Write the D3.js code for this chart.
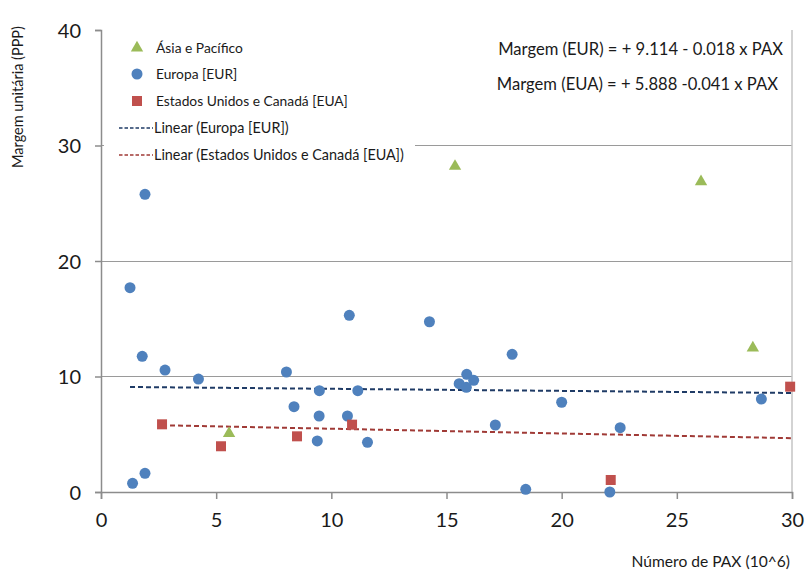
<!DOCTYPE html>
<html><head><meta charset="utf-8">
<script src="https://cdn.jsdelivr.net/npm/d3@7"></script>
<style>
body{margin:0;background:#fff;}
svg text{font-family:Lato,"Open Sans",sans-serif;fill:#1a1a1a;}
</style></head>
<body><svg id="c" width="806" height="575"></svg>
<script>
// Data
const asiaX = [5.56, 15.37, 26.05, 28.3];
const asiaY = [5.07, 28.2, 26.87, 12.47];
const euroX = [1.26, 1.91, 1.79, 2.78, 4.23, 1.37, 1.91, 8.05, 8.38, 9.48, 9.47, 9.39, 10.78, 10.7, 11.15, 11.57, 14.26, 15.55, 15.88, 15.86, 16.18, 17.12, 17.85, 18.44, 20.0, 22.54, 22.09, 28.67];
const euroY = [17.69, 25.77, 11.75, 10.56, 9.78, 0.75, 1.62, 10.39, 7.39, 8.77, 6.58, 4.42, 15.3, 6.58, 8.77, 4.3, 14.74, 9.38, 10.19, 9.06, 9.67, 5.8, 11.92, 0.23, 7.77, 5.57, 0.0, 8.05];
const usX = [2.65, 5.21, 8.51, 10.9, 22.13, 29.92];
const usY = [5.86, 3.96, 4.82, 5.83, 1.04, 9.12];
const eurFit = {a: 9.114, b: -0.018};
const euaFit = {a: 5.888, b: -0.041};
const xTicks = [0, 5, 10, 15, 20, 25, 30];
const yTicks = [0, 10, 20, 30, 40];
const legendLabels = ["Ásia e Pacífico", "Europa [EUR]", "Estados Unidos e Canadá [EUA]", "Linear (Europa [EUR])", "Linear (Estados Unidos e Canadá [EUA])"];
const eqLabels = ["Margem (EUR) = + 9.114 - 0.018 x PAX", "Margem (EUA) = + 5.888 -0.041 x PAX"];

const svg = d3.select("#c");
const x = d3.scaleLinear().domain([0, 30]).range([101, 792]);
const y = d3.scaleLinear().domain([0, 40]).range([492, 30]);
const cBlue = "#4F81BD", cRed = "#C0504D", cGreen = "#9BBB59";
const tBlue = "#1F3B66", tRed = "#A03A36";

// gridlines
svg.append("g").selectAll("line").data(yTicks.filter(d => d > 0 && d < 40)).join("line")
  .attr("x1", x(0)).attr("x2", x(30)).attr("y1", d => y(d)).attr("y2", d => y(d))
  .attr("stroke", "#9a9a9a").attr("stroke-width", 1).attr("shape-rendering", "crispEdges");
// right border
svg.append("line").attr("x1", x(30)).attr("x2", x(30)).attr("y1", y(40)).attr("y2", y(0))
  .attr("stroke", "#c4c4c4").attr("stroke-width", 1.5);

// axes
const xa = svg.append("g").attr("transform", `translate(0,${y(0)})`)
  .call(d3.axisBottom(x).tickValues(xTicks).tickSize(7).tickPadding(14));
const ya = svg.append("g").attr("transform", `translate(${x(0)},0)`)
  .call(d3.axisLeft(y).tickValues(yTicks).tickSize(6).tickPadding(14));
[xa, ya].forEach(g => {
  g.select(".domain").attr("stroke", "#8c8c8c").attr("stroke-width", 1.5);
  g.selectAll(".tick line").attr("stroke", "#8c8c8c").attr("stroke-width", 1.5);
  g.selectAll(".tick text").attr("font-size", 20).attr("font-family", "Lato, sans-serif").attr("fill", "#1a1a1a");
});
ya.selectAll(".tick text").attr("dy", "0.35em");

// legend background
svg.append("rect").attr("x", 104).attr("y", 34).attr("width", 311).attr("height", 134).attr("fill", "#fff");

// trend lines
function trend(fit, xs, color) {
  const x0 = d3.min(xs), x1 = 30;
  svg.append("line").attr("x1", x(x0)).attr("x2", x(x1))
    .attr("y1", y(fit.a + fit.b * x0)).attr("y2", y(fit.a + fit.b * x1))
    .attr("stroke", color).attr("stroke-width", 2).attr("stroke-dasharray", "5,3");
}
trend(eurFit, euroX, tBlue);
trend(euaFit, usX, tRed);

// points
svg.append("g").selectAll("circle").data(euroX.map((d, i) => [d, euroY[i]])).join("circle")
  .attr("cx", d => x(d[0])).attr("cy", d => y(d[1])).attr("r", 5.5).attr("fill", cBlue);
svg.append("g").selectAll("rect").data(usX.map((d, i) => [d, usY[i]])).join("rect")
  .attr("x", d => x(d[0]) - 5).attr("y", d => y(d[1]) - 5).attr("width", 10).attr("height", 10).attr("fill", cRed);
const tri = d3.symbol().type(d3.symbolTriangle).size(66);
svg.append("g").selectAll("path").data(asiaX.map((d, i) => [d, asiaY[i]])).join("path")
  .attr("d", tri).attr("transform", d => `translate(${x(d[0])},${y(d[1])})`).attr("fill", cGreen);

// legend
const lg = svg.append("g");
const rows = [48, 74, 101, 128, 155];
lg.append("path").attr("d", tri).attr("transform", `translate(137,${rows[0]})`).attr("fill", cGreen);
lg.append("circle").attr("cx", 137).attr("cy", rows[1]).attr("r", 5.5).attr("fill", cBlue);
lg.append("rect").attr("x", 132).attr("y", rows[2] - 5).attr("width", 10).attr("height", 10).attr("fill", cRed);
lg.append("line").attr("x1", 119).attr("x2", 153).attr("y1", rows[3]).attr("y2", rows[3])
  .attr("stroke", tBlue).attr("stroke-width", 1.5).attr("stroke-dasharray", "3.5,2");
lg.append("line").attr("x1", 119).attr("x2", 153).attr("y1", rows[4]).attr("y2", rows[4])
  .attr("stroke", tRed).attr("stroke-width", 1.5).attr("stroke-dasharray", "3.5,2");
lg.selectAll("text").data(legendLabels).join("text")
  .attr("x", (d, i) => i < 3 ? 156 : 154).attr("y", (d, i) => rows[i]).attr("dy", "0.35em")
  .attr("font-size", (d, i) => i < 3 ? 13.8 : 14.4).text(d => d);

// equations
svg.selectAll("text.eq").data(eqLabels).join("text").attr("class", "eq")
  .attr("x", (d, i) => i === 0 ? 783 : 778).attr("y", (d, i) => i === 0 ? 49 : 84).attr("dy", "0.35em")
  .attr("text-anchor", "end").attr("font-size", 16.6).text(d => d);

// axis titles
svg.append("text").attr("x", 790).attr("y", 567).attr("text-anchor", "end")
  .attr("font-size", 15.6).text("Número de PAX (10^6)");
svg.append("text").attr("transform", "translate(23,97) rotate(-90)").attr("text-anchor", "middle")
  .attr("font-size", 14.5).text("Margem unitária (PPP)");
</script></body></html>
